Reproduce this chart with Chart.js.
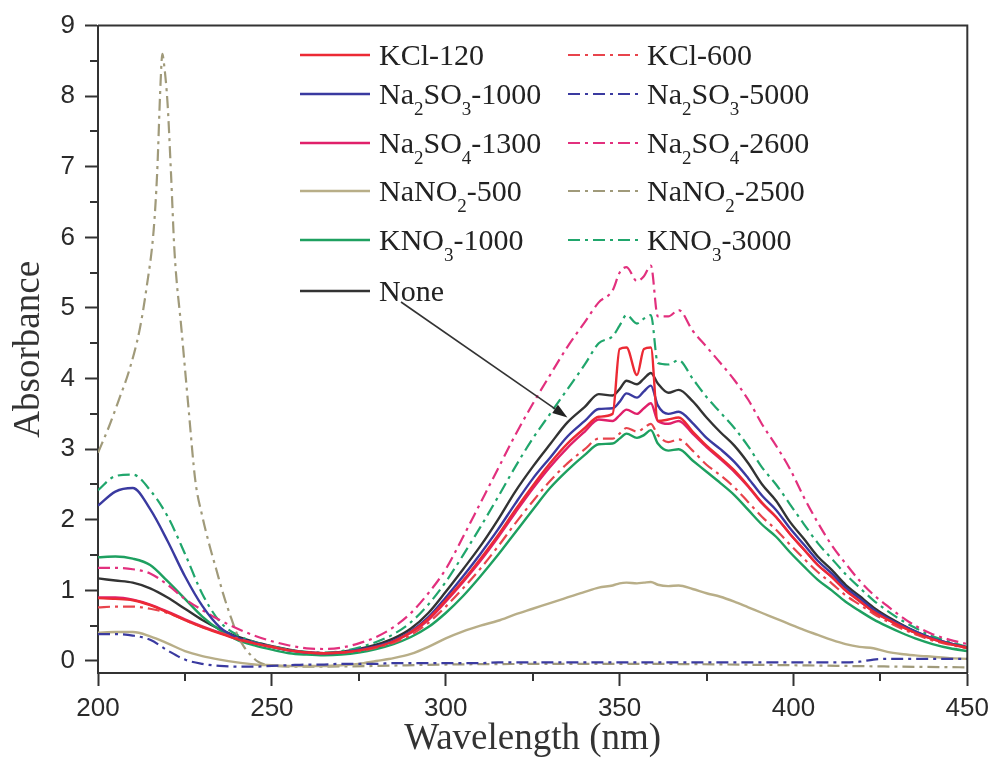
<!DOCTYPE html>
<html><head><meta charset="utf-8">
<script src="https://cdn.jsdelivr.net/npm/chart.js@4.4.1/dist/chart.umd.min.js"></script>
<style>html,body{margin:0;padding:0;background:#fff}</style>
</head><body>
<canvas id="c" width="996" height="760"></canvas>
<script>
// ---------- data ----------
const wavelength = [200,205,210,215,220,225,230,235,240,245,250,255,260,265,270,275,280,285,290,295,
  300,305,310,315,320,325,330,335,340,344,348,350,352,355,357,359,361,
  364,367,371,375,379,383,387,391,395,399,403,407,411,415,419,423,427,431,435,440,445,450];

const kcl120 = [0.89,0.88,0.86,0.79,0.69,0.58,0.48,0.39,0.31,0.25,
  0.20,0.15,0.12,0.11,0.12,0.15,0.20,0.28,0.41,0.60,
  0.86,1.14,1.45,1.78,2.14,2.48,2.80,3.08,3.30,
  3.46,3.50,4.42,4.44,4.05,4.42,4.44,3.40,
  3.42,3.45,3.25,3.05,2.88,2.70,2.48,2.24,2.04,1.80,
  1.58,1.36,1.19,1.00,0.85,0.70,0.59,0.49,0.40,
  0.31,0.24,0.19];
const kcl600 = [0.76,0.77,0.77,0.74,0.68,0.58,0.48,0.40,0.32,0.25,
  0.20,0.15,0.12,0.11,0.12,0.14,0.19,0.26,0.37,0.54,
  0.77,1.03,1.31,1.62,1.95,2.26,2.55,2.80,3.00,
  3.15,3.15,3.22,3.30,3.25,3.30,3.36,3.20,
  3.10,3.14,2.98,2.78,2.63,2.46,2.25,2.04,1.86,1.65,
  1.45,1.26,1.10,0.93,0.80,0.67,0.56,0.46,0.38,
  0.29,0.23,0.18];
const sulfite1000 = [2.20,2.40,2.45,2.15,1.70,1.20,0.78,0.48,0.33,0.26,
  0.20,0.15,0.12,0.11,0.12,0.16,0.21,0.29,0.42,0.62,
  0.90,1.20,1.52,1.86,2.23,2.58,2.88,3.18,3.40,
  3.57,3.58,3.67,3.79,3.73,3.82,3.90,3.62,
  3.50,3.53,3.37,3.16,3.00,2.82,2.59,2.34,2.14,1.88,
  1.65,1.42,1.24,1.04,0.89,0.73,0.61,0.51,0.42,
  0.32,0.25,0.19];
const sulfite5000 = [0.38,0.38,0.36,0.30,0.15,0.02,-0.04,-0.07,-0.08,-0.08,
  -0.07,-0.06,-0.05,-0.05,-0.04,-0.04,-0.04,-0.03,-0.03,-0.03,
  -0.03,-0.03,-0.03,-0.02,-0.02,-0.02,-0.02,-0.02,-0.02,
  -0.02,-0.02,-0.02,-0.02,-0.02,-0.02,-0.02,-0.02,
  -0.02,-0.02,-0.02,-0.02,-0.02,-0.02,-0.02,-0.02,-0.02,-0.02,
  -0.02,-0.02,-0.02,-0.02,-0.01,0.02,0.03,0.03,0.03,
  0.03,0.03,0.03];
const sulfate1300 = [0.90,0.90,0.87,0.80,0.70,0.59,0.49,0.40,0.32,0.25,
  0.20,0.15,0.12,0.11,0.12,0.15,0.20,0.28,0.40,0.58,
  0.84,1.12,1.42,1.75,2.10,2.44,2.75,3.02,3.25,
  3.42,3.40,3.48,3.56,3.50,3.58,3.65,3.40,
  3.36,3.40,3.22,3.03,2.86,2.68,2.47,2.23,2.04,1.80,
  1.58,1.36,1.19,1.00,0.85,0.70,0.59,0.49,0.40,
  0.31,0.24,0.19];
const sulfate2600 = [1.32,1.32,1.30,1.24,1.08,0.88,0.72,0.58,0.46,0.36,
  0.28,0.22,0.18,0.17,0.19,0.25,0.34,0.48,0.68,0.96,
  1.30,1.76,2.24,2.72,3.20,3.64,4.05,4.45,4.80,
  5.08,5.25,5.50,5.58,5.38,5.45,5.60,4.88,
  4.88,4.97,4.68,4.45,4.22,3.98,3.70,3.35,3.05,2.72,
  2.32,1.96,1.64,1.38,1.14,0.94,0.78,0.63,0.50,
  0.38,0.30,0.24];
const nitrite500 = [0.40,0.41,0.41,0.35,0.25,0.14,0.07,0.02,-0.02,-0.05,
  -0.06,-0.07,-0.07,-0.07,-0.06,-0.04,0.00,0.04,0.10,0.20,
  0.32,0.42,0.50,0.57,0.66,0.74,0.82,0.90,0.98,
  1.04,1.07,1.10,1.11,1.10,1.11,1.12,1.08,
  1.06,1.07,1.02,0.96,0.91,0.84,0.76,0.68,0.60,0.52,
  0.44,0.37,0.30,0.24,0.20,0.18,0.13,0.10,0.08,
  0.06,0.04,0.03];
const nitrite2500Wavelength = [200,203,206,209,212,214,216,217,218,218.5,
  219,220,221,222,224,226,228,230,232,234,
  236,238,240,242,244,246,248,250,260,280,
  300,350,400,430,450];
const nitrite2500 = [2.95,3.30,3.70,4.12,4.70,5.30,6.10,6.90,8.20,8.60,
  8.45,7.90,6.90,5.80,4.70,3.60,2.55,2.05,1.65,1.30,
  0.95,0.65,0.38,0.20,0.08,-0.01,-0.05,-0.07,-0.08,-0.07,
  -0.05,-0.04,-0.06,-0.08,-0.09];
const nitrate1000 = [1.47,1.48,1.45,1.36,1.13,0.88,0.63,0.44,0.30,0.22,
  0.16,0.11,0.09,0.08,0.09,0.12,0.17,0.24,0.34,0.48,
  0.68,0.92,1.20,1.50,1.82,2.14,2.45,2.70,2.92,
  3.07,3.08,3.15,3.22,3.16,3.20,3.27,3.08,
  2.98,3.00,2.84,2.68,2.52,2.35,2.14,1.93,1.76,1.54,
  1.34,1.15,1.00,0.84,0.71,0.59,0.49,0.40,0.32,
  0.24,0.18,0.14];
const nitrate3000 = [2.42,2.62,2.64,2.42,2.05,1.52,0.95,0.56,0.37,0.27,
  0.21,0.16,0.13,0.12,0.14,0.19,0.27,0.38,0.55,0.80,
  1.12,1.50,1.90,2.32,2.75,3.15,3.50,3.85,4.20,
  4.50,4.60,4.75,4.90,4.78,4.85,4.90,4.22,
  4.20,4.26,4.00,3.74,3.52,3.30,3.04,2.74,2.50,2.22,
  1.94,1.67,1.45,1.23,1.04,0.86,0.71,0.58,0.47,
  0.35,0.27,0.20];
const none = [1.17,1.14,1.11,1.03,0.90,0.74,0.58,0.45,0.35,0.27,
  0.21,0.16,0.12,0.11,0.13,0.17,0.23,0.32,0.46,0.68,
  0.98,1.30,1.63,2.00,2.40,2.75,3.07,3.38,3.60,
  3.78,3.76,3.85,3.97,3.92,4.00,4.08,3.93,
  3.80,3.84,3.68,3.45,3.24,3.05,2.80,2.50,2.27,1.97,
  1.73,1.48,1.29,1.08,0.92,0.76,0.63,0.52,0.42,
  0.32,0.25,0.19];

const xTicks = [200,250,300,350,400,450];
const xMinorTicks = [225,275,325,375,425];
const yTicks = [0,1,2,3,4,5,6,7,8,9];
const yMinorTicks = [0.5,1.5,2.5,3.5,4.5,5.5,6.5,7.5,8.5];
const arrowTarget = {x: 335, y: 3.45};

// ---------- build ----------
const DASHDOT = [12,5,3,5];
function pts(xs, ys){ return xs.map((x,i)=>({x:x, y:ys[i]})); }
function ds(label, xs, ys, color, dashed){
  return {label, data: pts(xs, ys), borderColor: color, backgroundColor: color,
    borderWidth: dashed ? 2.2 : 2.4, borderDash: dashed ? DASHDOT : [], fill:false, pointRadius:0};
}
const datasets = [
  ds('KCl-120', wavelength, kcl120, '#ec2a34', false),
  ds('KCl-600', wavelength, kcl600, '#e8444c', true),
  ds('Na₂SO₃-1000', wavelength, sulfite1000, '#3a3aa0', false),
  ds('Na₂SO₃-5000', wavelength, sulfite5000, '#3a3aa0', true),
  ds('Na₂SO₄-1300', wavelength, sulfate1300, '#e0206a', false),
  ds('Na₂SO₄-2600', wavelength, sulfate2600, '#e2307e', true),
  ds('NaNO₂-500', wavelength, nitrite500, '#b8ae88', false),
  ds('NaNO₂-2500', nitrite2500Wavelength, nitrite2500, '#a09a7a', true),
  ds('KNO₃-1000', wavelength, nitrate1000, '#1ea060', false),
  ds('KNO₃-3000', wavelength, nitrate3000, '#20a66c', true),
  ds('None', wavelength, none, '#333333', false)
];

const SUBS = '₀₁₂₃₄₅₆₇₈₉';
function drawRich(ctx, text, x, y){
  let cx = x;
  let run = '';
  const flush = () => { if(run){ ctx.font = '30px "Liberation Serif"'; ctx.fillText(run, cx, y); cx += ctx.measureText(run).width; run=''; } };
  for (const ch of text){
    const k = SUBS.indexOf(ch);
    if (k >= 0){ flush(); ctx.font = '19px "Liberation Serif"'; ctx.fillText(String(k), cx, y + 11); cx += ctx.measureText(String(k)).width; }
    else run += ch;
  }
  flush();
  return cx;
}

const decorPlugin = {
  id: 'decor',
  afterDraw(chart){
    const {ctx, chartArea: a, scales: {x, y}} = chart;
    ctx.save();
    ctx.strokeStyle = '#333'; ctx.lineWidth = 2;
    ctx.beginPath();
    ctx.moveTo(a.left, a.top); ctx.lineTo(a.right, a.top); ctx.lineTo(a.right, a.bottom);
    ctx.stroke();
    ctx.beginPath();
    for (const v of yMinorTicks){ const p = Math.round(y.getPixelForValue(v)); ctx.moveTo(a.left-8, p); ctx.lineTo(a.left, p); }
    for (const v of xMinorTicks){ const p = Math.round(x.getPixelForValue(v)); ctx.moveTo(p, a.bottom); ctx.lineTo(p, a.bottom+8); }
    ctx.stroke();

    const colLine = [a.left + 202, a.left + 470];
    const lineLen = 70;
    const rowY = [55, 94, 143, 191, 240, 291];
    ctx.textBaseline = 'alphabetic'; ctx.textAlign = 'left';
    let noneTextX = 0, noneRowY = 0;
    chart.data.datasets.forEach((d, i) => {
      const col = i % 2, row = Math.floor(i / 2);
      const lx = colLine[col], ly = rowY[row];
      ctx.save();
      ctx.strokeStyle = d.borderColor; ctx.lineWidth = d.borderWidth;
      ctx.setLineDash(d.borderDash || []);
      ctx.beginPath(); ctx.moveTo(lx, ly); ctx.lineTo(lx + lineLen, ly); ctx.stroke();
      ctx.restore();
      ctx.fillStyle = '#222';
      drawRich(ctx, d.label, lx + lineLen + 9, ly + 10);
      if (d.label === 'None'){ noneTextX = lx + lineLen + 9; noneRowY = ly; }
    });

    const sx = noneTextX + 22, sy = noneRowY + 11;
    const ex = x.getPixelForValue(arrowTarget.x), ey = y.getPixelForValue(arrowTarget.y);
    const ang = Math.atan2(ey - sy, ex - sx);
    const hl = 15, hw = 5;
    ctx.strokeStyle = '#333'; ctx.fillStyle = '#222'; ctx.lineWidth = 1.6;
    ctx.beginPath(); ctx.moveTo(sx, sy);
    ctx.lineTo(ex - hl*Math.cos(ang), ey - hl*Math.sin(ang)); ctx.stroke();
    ctx.beginPath();
    ctx.moveTo(ex, ey);
    ctx.lineTo(ex - hl*Math.cos(ang) + hw*Math.sin(ang), ey - hl*Math.sin(ang) - hw*Math.cos(ang));
    ctx.lineTo(ex - hl*Math.cos(ang) - hw*Math.sin(ang), ey - hl*Math.sin(ang) + hw*Math.cos(ang));
    ctx.closePath(); ctx.fill();
    ctx.restore();
  }
};

const tickFont = {family: '"Liberation Sans", Arial, sans-serif', size: 26};
const titleFont = {family: '"Liberation Serif", "Times New Roman", serif', size: 37, lineHeight: 1};

new Chart(document.getElementById('c'), {
  type: 'line',
  data: { datasets },
  options: {
    responsive: false, animation: false,
    layout: { padding: { top: 25, right: 23, left: 0, bottom: 0 } },
    plugins: { legend: { display: false }, tooltip: { enabled: false } },
    elements: { point: { radius: 0 }, line: { cubicInterpolationMode: 'monotone' } },
    scales: {
      x: {
        type: 'linear', min: 200, max: 450,
        afterBuildTicks: s => { s.ticks = xTicks.map(v => ({value: v})); },
        afterFit: s => { s.height = 87; },
        border: { display: true, color: '#333', width: 2 },
        grid: { display: true, drawOnChartArea: false, drawTicks: true, tickLength: 13, tickColor: '#333', tickWidth: 2 },
        ticks: { font: tickFont, color: '#2a2a2a', padding: 7, maxRotation: 0, autoSkip: false },
        title: { display: true, text: 'Wavelength (nm)', font: titleFont, color: '#333', padding: { top: 0, bottom: 2 } }
      },
      y: {
        type: 'linear', min: -0.17, max: 9,
        afterBuildTicks: s => { s.ticks = yTicks.map(v => ({value: v})); },
        afterFit: s => { s.width = 98; },
        border: { display: true, color: '#333', width: 2 },
        grid: { display: true, drawOnChartArea: false, drawTicks: true, tickLength: 13, tickColor: '#333', tickWidth: 2 },
        ticks: { font: tickFont, color: '#2a2a2a', padding: 10, autoSkip: false },
        title: { display: true, text: 'Absorbance', font: titleFont, color: '#333', padding: { top: 11, bottom: 0 } }
      }
    }
  },
  plugins: [decorPlugin]
});
</script>
</body></html>
